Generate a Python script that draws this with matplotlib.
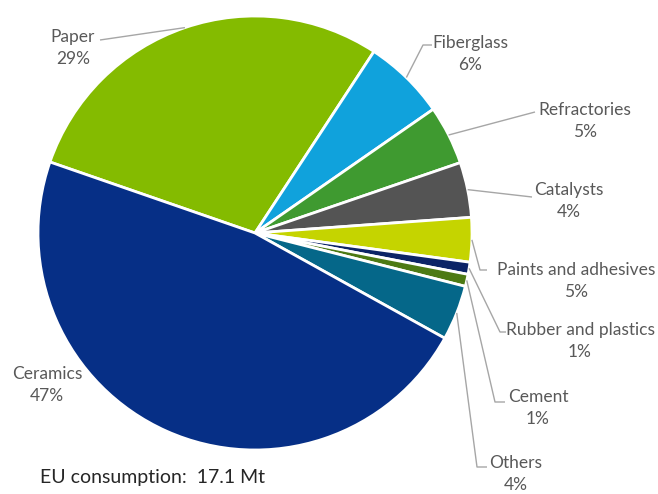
import numpy as np
import matplotlib
matplotlib.use("Agg")
import matplotlib.pyplot as plt

plt.rcParams['font.family'] = ['Lato', 'DejaVu Sans']

# EU consumption of kaolin by end use (shares, %)
sectors = ['Paper', 'Fiberglass', 'Refractories', 'Catalysts', 'Paints and adhesives',
           'Rubber and plastics', 'Cement', 'Others', 'Ceramics']
shares = [28.9, 6.1, 4.4, 4.1, 3.3, 0.9, 0.9, 4.1, 47.2]
pct_labels = ['29%', '6%', '5%', '4%', '5%', '1%', '1%', '4%', '47%']
colors = ['#84bb00', '#10a2dc', '#3f9a30', '#545454', '#c5d400',
          '#0c2466', '#4d7a14', '#056789', '#062f86']

W, H = 658, 494
fig = plt.figure(figsize=(W / 100, H / 100), dpi=100)
ax = fig.add_axes([0, 0, 1, 1])

cx, cy, R = 255, H - 233, 217
wedges, _ = ax.pie(shares, colors=colors, startangle=160.9, counterclock=False,
                   center=(cx, cy), radius=R,
                   wedgeprops=dict(edgecolor='white', linewidth=2))
ax.set_xlim(0, W)
ax.set_ylim(0, H)
ax.set_aspect('equal')
ax.axis('off')

# label layout: text centre (pixel coords, y down) and leader elbow points
layout = {
    'Paper':                ((73, 48),   [(100, 40)]),
    'Fiberglass':           ((470, 54),  [(423, 45), (432, 45)]),
    'Refractories':         ((585, 121), [(535, 112)]),
    'Catalysts':            ((569, 201), [(532, 197)]),
    'Paints and adhesives': ((576, 281), [(480, 270), (487, 270)]),
    'Rubber and plastics':  ((580, 341), [(500, 332), (506, 332)]),
    'Cement':               ((538, 408), [(495, 402), (505, 402)]),
    'Others':               ((516, 474), [(477, 467), (487, 467)]),
    'Ceramics':             ((47, 385),  []),
}

for w, name, pct in zip(wedges, sectors, pct_labels):
    (tx, ty), elbow = layout[name]
    ax.text(tx, H - ty, f'{name}\n{pct}', ha='center', va='center',
            fontsize=12.5, color='#595959', linespacing=1.4)
    if elbow:
        mid = np.deg2rad((w.theta1 + w.theta2) / 2)
        pts = [(cx + R * np.cos(mid), cy + R * np.sin(mid))]
        pts += [(x, H - y) for x, y in elbow]
        xs, ys = zip(*pts)
        ax.plot(xs, ys, color='#a6a6a6', linewidth=1, solid_capstyle='butt')

ax.text(40, H - 477, 'EU consumption:  17.1 Mt', ha='left', va='center',
        fontsize=14, color='#262626')

fig.savefig('out.png', dpi=100)
